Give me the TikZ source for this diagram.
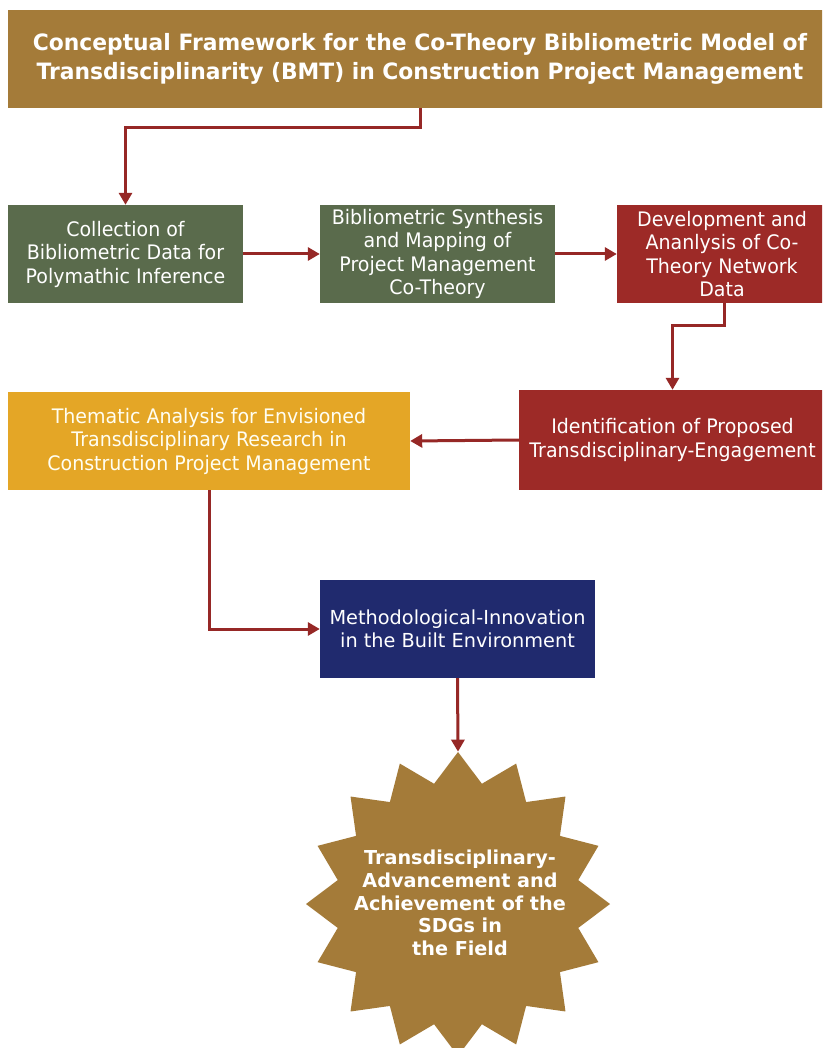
\documentclass[tikz,border=0pt]{standalone}
\usepackage{fontspec}
\setmainfont{DejaVu Sans}
\newfontfamily\condf[FakeStretch=0.95]{DejaVu Sans}
\newfontfamily\titlef[FakeStretch=0.97]{DejaVu Sans}
\usetikzlibrary{arrows.meta,shapes.geometric}
\definecolor{cbrown}{RGB}{164,123,57}
\definecolor{cgreen}{RGB}{90,107,76}
\definecolor{cred}{RGB}{157,42,39}
\definecolor{carrow}{RGB}{150,40,38}
\definecolor{cyellow}{RGB}{228,166,38}
\definecolor{cnavy}{RGB}{32,42,110}
\tikzset{
  boxbase/.style={rectangle, inner sep=0pt, align=center, text=white,
    font=\condf\fontsize{20}{23.5}\selectfont},
  greenbox/.style={boxbase, fill=cgreen},
  redbox/.style={boxbase, fill=cred},
  yellowbox/.style={boxbase, fill=cyellow, text=white!95!yellow},
  navybox/.style={boxbase, fill=cnavy, font=\fontsize{19.3}{23.5}\selectfont},
  titlebox/.style={rectangle, inner sep=0pt, align=center, text=white, fill=cbrown,
    font=\titlef\bfseries\fontsize{22.5}{29.5}\selectfont},
  conn/.style={draw=carrow, line width=3pt, -{Triangle[length=12pt,width=13pt]}},
  starshape/.style={star, star points=16, star point ratio=1.24, fill=cbrown,
    minimum size=304pt, inner sep=0pt, draw=none},
  startext/.style={align=center, text=white, font=\bfseries\fontsize{19.2}{22.8}\selectfont}
}
\begin{document}
\begin{tikzpicture}[x=1pt,y=-1pt]
\clip (0,0) rectangle (822,1048);
\fill[white] (0,0) rectangle (822,1048);

\node[titlebox, minimum width=824pt, minimum height=98pt] (title) at (420,59)
  {Conceptual Framework for the Co-Theory Bibliometric Model of\\
   Transdisciplinarity (BMT) in Construction Project Management};

\node[greenbox, minimum width=235pt, minimum height=98pt] (g1) at (125.5,254)
  {Collection of\\ Bibliometric Data for\\ Polymathic Inference};
\node[greenbox, minimum width=235pt, minimum height=98pt] (g2) at (437.5,254)
  {Bibliometric Synthesis\\ and Mapping of\\ Project Management\\ Co-Theory};
\node[redbox, minimum width=210pt, minimum height=98pt] (r1) at (722,254)
  {Development and\\ Ananlysis of Co-\\ Theory Network\\ Data};

\node[redbox, minimum width=307pt, minimum height=100pt] (r2) at (672.5,440)
  {Identification of Proposed\\ Transdisciplinary-Engagement};
\node[yellowbox, minimum width=402pt, minimum height=98pt] (yb) at (209,441)
  {Thematic Analysis for Envisioned\\ Transdisciplinary Research in\\ Construction Project Management};

\node[navybox, minimum width=275pt, minimum height=98pt] (nv) at (457.5,629)
  {Methodological-Innovation\\ in the Built Environment};

\node[starshape] (st) at (458,904) {};
\node[startext] (stt) at (460,903)
  {Transdisciplinary-\\ Advancement and\\ Achievement of the\\ SDGs in\\ the Field};

\coordinate (k1) at (420,128);
\coordinate (k2) at (724,325);
\draw[conn] (title.south -| k1) -- (k1) -| (g1.north);
\draw[conn] (g1.east) -- (g2.west);
\draw[conn] (g2.east) -- (r1.west);
\draw[conn] (r1.south -| k2) -- (k2) -| (r2.north);
\draw[conn] (r2.west) -- (yb.east);
\draw[conn] (yb.south) |- (nv.west);
\draw[conn] (nv.south) -- (st.north);
\end{tikzpicture}
\end{document}
